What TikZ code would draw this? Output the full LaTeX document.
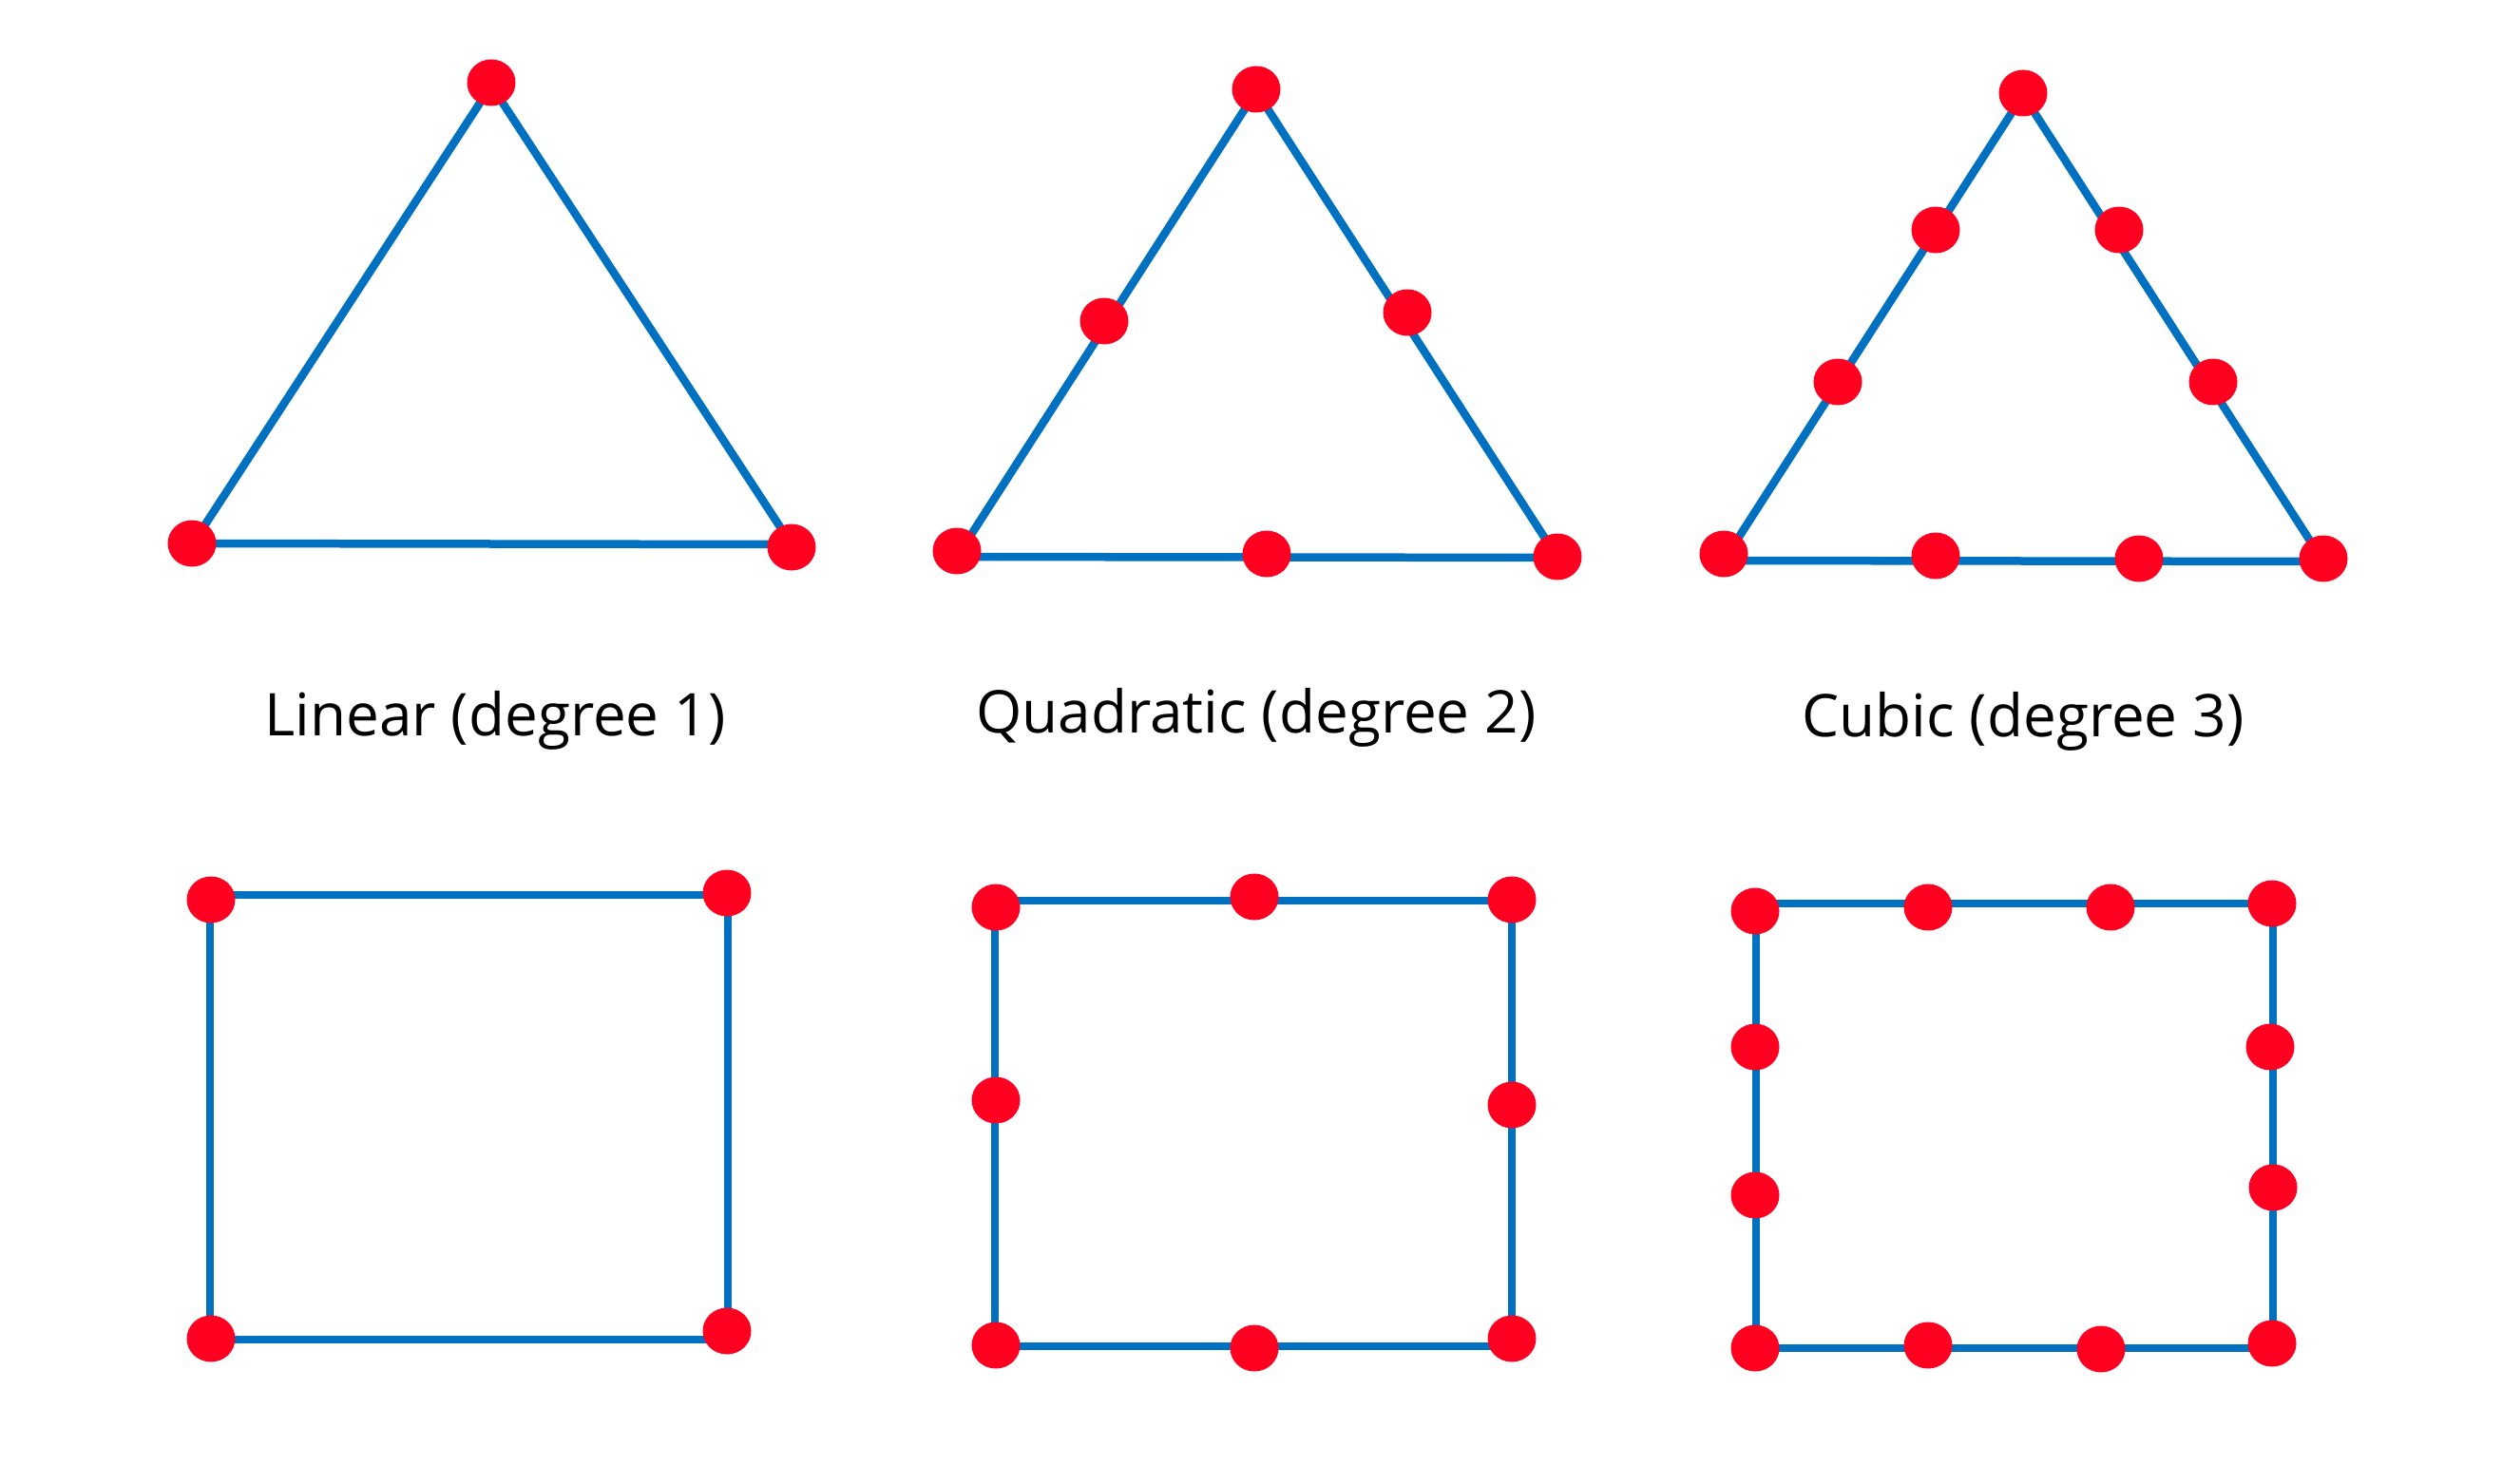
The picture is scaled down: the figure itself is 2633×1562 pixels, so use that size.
\documentclass[tikz,border=0pt]{standalone}
\usepackage{fontspec}
\setmainfont{Open Sans}
\usetikzlibrary{shapes.geometric}
\definecolor{edgeblue}{HTML}{0070C0}
\definecolor{dotred}{HTML}{FF0020}
\begin{document}
\begin{tikzpicture}[x=1pt,y=-1pt,
  edge/.style={draw=edgeblue,line width=8.5pt,line join=miter,line cap=butt},
  pt/.style={shape=ellipse,fill=dotred,draw=none,inner sep=0pt,minimum width=51pt,minimum height=49pt},
  lbl/.style={anchor=base,inner sep=0pt,font=\fontsize{62}{72}\selectfont,text=black}]
\useasboundingbox[fill=white] (0,0) rectangle (2633,1562);
% ---------- corner coordinates of the outlines ----------
\coordinate (A1) at (517,90);  \coordinate (B1) at (203,572);  \coordinate (C1) at (833,573);
\coordinate (A2) at (1322,96); \coordinate (B2) at (1007,586); \coordinate (C2) at (1639,587);
\coordinate (A3) at (2129,100);\coordinate (B3) at (1814,590); \coordinate (C3) at (2445,591);
\coordinate (P1) at (221,942);  \coordinate (Q1) at (766,942);  \coordinate (R1) at (766,1410); \coordinate (S1) at (221,1410);
\coordinate (P2) at (1047,948); \coordinate (Q2) at (1591,948); \coordinate (R2) at (1591,1417);\coordinate (S2) at (1047,1417);
\coordinate (P3) at (1848,951); \coordinate (Q3) at (2392,951); \coordinate (R3) at (2392,1419);\coordinate (S3) at (1848,1419);
% ---------- outlines ----------
\draw[edge] (A1) -- (B1) -- (C1) -- cycle;
\draw[edge] (A2) -- (B2) -- (C2) -- cycle;
\draw[edge] (A3) -- (B3) -- (C3) -- cycle;
\draw[edge] (P1) -- (Q1) -- (R1) -- (S1) -- cycle;
\draw[edge] (P2) -- (Q2) -- (R2) -- (S2) -- cycle;
\draw[edge] (P3) -- (Q3) -- (R3) -- (S3) -- cycle;
% ---------- linear triangle ----------
\node[pt] (t1a) at (517,87) {};
\node[pt] (t1b) at (202,572) {};
\node[pt] (t1c) at (833,576) {};
% ---------- quadratic triangle ----------
\node[pt] (t2a) at (1322,94) {};
\node[pt] (t2l) at (1162,338) {};
\node[pt] (t2r) at (1481,329) {};
\node[pt] (t2b) at (1007,580) {};
\node[pt] (t2m) at (1333,583) {};
\node[pt] (t2c) at (1639,586) {};
% ---------- cubic triangle ----------
\node[pt] (t3a) at (2129,98) {};
\node[pt] (t3l1) at (2037,242) {};
\node[pt] (t3l2) at (1934,402) {};
\node[pt] (t3r1) at (2230,242) {};
\node[pt] (t3r2) at (2329,402) {};
\node[pt] (t3b) at (1814,583) {};
\node[pt] (t3m1) at (2037,585) {};
\node[pt] (t3m2) at (2251,588) {};
\node[pt] (t3c) at (2445,588) {};
% ---------- labels ----------
\node[lbl] (lab1) at (521,774) {Linear (degree 1)};
\node[lbl] (lab2) at (1322,771) {Quadratic (degree 2)};
\node[lbl] (lab3) at (2129,775) {Cubic (degree 3)};
% ---------- linear square ----------
\node[pt] (s1a) at (222,947) {};
\node[pt] (s1b) at (765,940) {};
\node[pt] (s1c) at (765,1401) {};
\node[pt] (s1d) at (222,1409) {};
% ---------- quadratic square ----------
\node[pt] (s2a) at (1048,955) {};
\node[pt] (s2t) at (1320,944) {};
\node[pt] (s2b) at (1591,947) {};
\node[pt] (s2l) at (1048,1158) {};
\node[pt] (s2r) at (1591,1163) {};
\node[pt] (s2d) at (1048,1416) {};
\node[pt] (s2m) at (1320,1419) {};
\node[pt] (s2c) at (1591,1409) {};
% ---------- cubic square ----------
\node[pt] (s3a) at (1847,959) {};
\node[pt] (s3t1) at (2029,955) {};
\node[pt] (s3t2) at (2221,955) {};
\node[pt] (s3b) at (2391,951) {};
\node[pt] (s3l1) at (1847,1102) {};
\node[pt] (s3l2) at (1847,1258) {};
\node[pt] (s3r1) at (2389,1102) {};
\node[pt] (s3r2) at (2392,1250) {};
\node[pt] (s3d) at (1847,1419) {};
\node[pt] (s3m1) at (2029,1416) {};
\node[pt] (s3m2) at (2211,1420) {};
\node[pt] (s3c) at (2391,1414) {};
\end{tikzpicture}
\end{document}
